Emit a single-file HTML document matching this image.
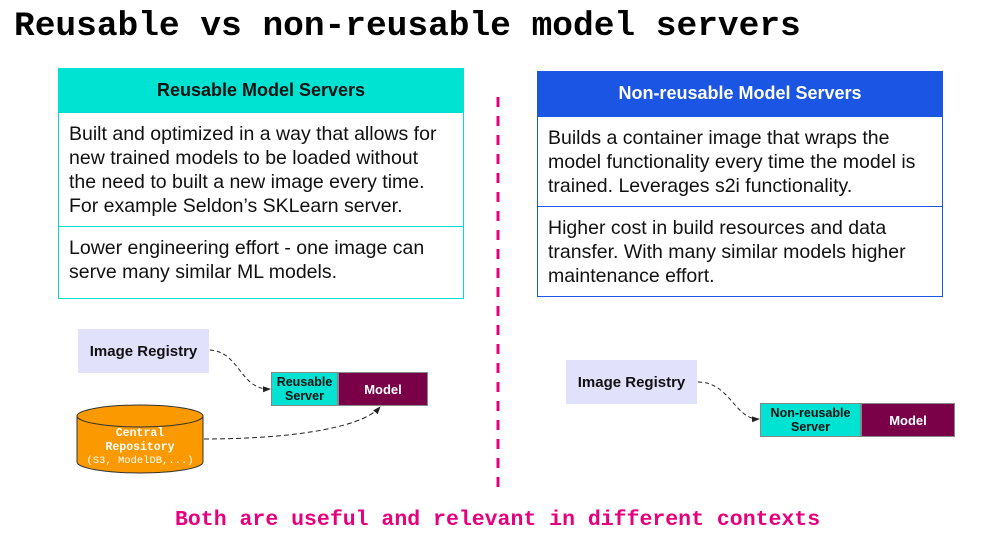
<!DOCTYPE html>
<html><head><style>
body{margin:0;width:983px;height:551px;background:#fff;position:relative;overflow:hidden;font-family:"Liberation Sans",sans-serif}
.a{position:absolute;box-sizing:border-box}
.t{font-size:19.5px;line-height:24px;color:#111;padding:9px 18px 9px 10px}
.c{display:flex;align-items:center;justify-content:center;text-align:center;font-weight:bold}
</style></head><body>
<div class="a" style="left:14px;top:7px;font-family:'Liberation Mono',monospace;font-weight:bold;font-size:34.5px;color:#000;white-space:nowrap">Reusable vs non-reusable model servers</div>

<div class="a" style="left:58px;top:68px;width:406px;height:231px;border:1px solid #00ddd0"></div>
<div class="a c" style="left:58px;top:68px;width:406px;height:44px;background:#00e3d3;font-size:18px;color:#111">Reusable Model Servers</div>
<div class="a t" style="left:58px;top:112px;width:406px;height:115px;border:1px solid #00ddd0">Built and optimized in a way that allows for new trained models to be loaded without the need to built a new image every time. For example Seldon’s SKLearn server.</div>
<div class="a t" style="left:58px;top:226px;width:406px;height:73px;border:1px solid #00ddd0">Lower engineering effort - one image can serve many similar ML models.</div>

<div class="a" style="left:537px;top:71px;width:406px;height:226px;border:1px solid #1a55e3"></div>
<div class="a c" style="left:537px;top:71px;width:406px;height:45px;background:#1a55e3;font-size:18px;color:#fff">Non-reusable Model Servers</div>
<div class="a t" style="left:537px;top:116px;width:406px;height:91px;border:1px solid #1a55e3">Builds a container image that wraps the model functionality every time the model is trained. Leverages s2i functionality.</div>
<div class="a t" style="left:537px;top:206px;width:406px;height:91px;border:1px solid #1a55e3">Higher cost in build resources and data transfer. With many similar models higher maintenance effort.</div>

<div class="a c" style="left:78px;top:329px;width:131px;height:44px;background:#e1e1fb;font-size:15px;color:#111">Image Registry</div>
<div class="a c" style="left:271px;top:372px;width:67px;height:34px;background:#00e3d3;font-size:12.5px;line-height:14px;color:#111;border:1px solid #888">Reusable<br>Server</div>
<div class="a c" style="left:338px;top:372px;width:90px;height:34px;background:#7a0048;font-size:13px;color:#fff;border:1px solid #888">Model</div>

<div class="a c" style="left:566px;top:360px;width:131px;height:44px;background:#e1e1fb;font-size:15px;color:#111">Image Registry</div>
<div class="a c" style="left:760px;top:403px;width:101px;height:34px;background:#00e3d3;font-size:12.5px;line-height:14px;color:#111;border:1px solid #888">Non-reusable<br>Server</div>
<div class="a c" style="left:861px;top:403px;width:94px;height:34px;background:#7a0048;font-size:13px;color:#fff;border:1px solid #888">Model</div>

<svg class="a" style="left:0;top:0" width="983" height="551">
<defs><marker id="m" markerWidth="8" markerHeight="8" refX="7" refY="4" orient="auto"><path d="M0,1 L8,4 L0,7z" fill="#222"/></marker></defs>
<line x1="498" y1="97" x2="498" y2="492" stroke="#e6007e" stroke-width="3" stroke-dasharray="10,9"/>
<path d="M210,350 C240,352 240,390 270,389" fill="none" stroke="#222" stroke-dasharray="4,3" marker-end="url(#m)"/>
<path d="M204,439 C280,439 360,430 380,407" fill="none" stroke="#222" stroke-dasharray="5,3" marker-end="url(#m)"/>
<path d="M698,382 C730,382 735,420 759,419" fill="none" stroke="#222" stroke-dasharray="4,3" marker-end="url(#m)"/>
<path d="M77,416 L77,462 A63,11 0 0 0 203,462 L203,416" fill="#fb9a00" stroke="#333"/>
<ellipse cx="140" cy="416" rx="63" ry="11" fill="#fb9a00" stroke="#333"/>
<text x="140" y="436" text-anchor="middle" font-family="Liberation Mono,monospace" font-weight="bold" font-size="11.5" fill="#fff">Central</text>
<text x="140" y="450" text-anchor="middle" font-family="Liberation Mono,monospace" font-weight="bold" font-size="11.5" fill="#fff">Repository</text>
<text x="140" y="463" text-anchor="middle" font-family="Liberation Mono,monospace" font-size="10.5" fill="#fff">(S3, ModelDB,...)</text>
</svg>

<div class="a" style="left:175px;top:508px;font-family:'Liberation Mono',monospace;font-weight:bold;font-size:21.5px;color:#e6007e;white-space:nowrap">Both are useful and relevant in different contexts</div>
</body></html>
